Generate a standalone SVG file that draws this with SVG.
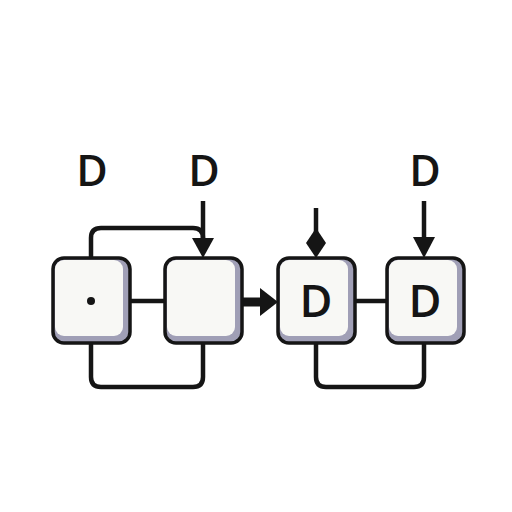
<svg xmlns="http://www.w3.org/2000/svg" width="512" height="512" viewBox="0 0 512 512">
<style>
.box{fill:#a09fb6;stroke:#151515;stroke-width:3.5}
.face{fill:#f8f8f5}
.wire{fill:none;stroke:#151515;stroke-width:4.5;stroke-linejoin:round}
.lbl{font-family:"Open Sans","Liberation Sans",sans-serif;font-weight:600;fill:#151515;text-anchor:middle}
</style>
<rect width="512" height="512" fill="#ffffff"/>
<g id="connectors">
  <path class="wire" d="M91 258 V238 Q91 228 101 228 H193 Q203 228 203 238 V240"/>
  <path class="wire" d="M203 201 V240"/>
  <polygon points="192,238 214,238 203,258" fill="#151515"/>
  <path class="wire" d="M91 343 V377 Q91 387 101 387 H193 Q203 387 203 377 V343"/>
  <line class="wire" x1="131" y1="301" x2="164" y2="301"/>
  <line x1="243" y1="302" x2="264" y2="302" stroke="#151515" stroke-width="9"/>
  <polygon points="260,288 278,302 260,316" fill="#151515"/>
  <path class="wire" d="M316 208 V232"/>
  <polygon points="316,228 326,243 316,258 306,243" fill="#151515"/>
  <line class="wire" x1="355" y1="301" x2="387" y2="301"/>
  <path class="wire" d="M424 201 V240"/>
  <polygon points="413,237 435,237 424,258" fill="#151515"/>
  <path class="wire" d="M316 343 V377 Q316 387 326 387 H414 Q424 387 424 377 V343"/>
</g>
<g id="label-d1"><text class="lbl" x="92" y="186" font-size="43">D</text></g>
<g id="label-d2"><text class="lbl" x="204" y="186" font-size="43">D</text></g>
<g id="label-d3"><text class="lbl" x="425" y="186" font-size="43">D</text></g>
<g id="node1">
  <rect class="box" x="53" y="258" width="77" height="85" rx="11"/>
  <rect class="face" x="55" y="260" width="68" height="76" rx="9"/>
  <circle cx="91" cy="301" r="4" fill="#151515"/>
</g>
<g id="node2">
  <rect class="box" x="165" y="258" width="77" height="85" rx="11"/>
  <rect class="face" x="167" y="260" width="68" height="76" rx="9"/>
</g>
<g id="node3">
  <rect class="box" x="278" y="258" width="77" height="85" rx="11"/>
  <rect class="face" x="280" y="260" width="68" height="76" rx="9"/>
  <text class="lbl" x="316" y="317" font-size="45">D</text>
</g>
<g id="node4">
  <rect class="box" x="387" y="258" width="77" height="85" rx="11"/>
  <rect class="face" x="389" y="260" width="68" height="76" rx="9"/>
  <text class="lbl" x="425" y="317" font-size="45">D</text>
</g>
</svg>
